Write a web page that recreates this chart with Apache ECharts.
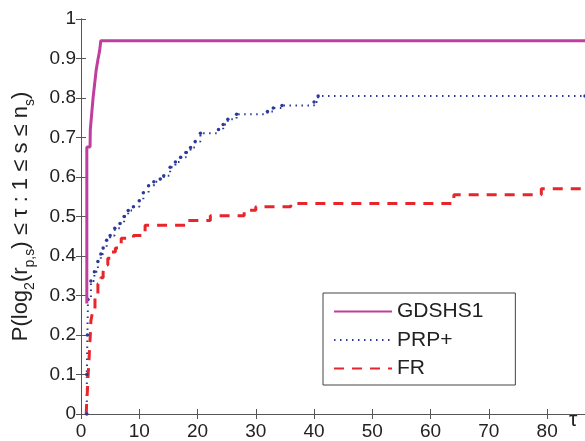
<!DOCTYPE html>
<html>
<head>
<meta charset="utf-8">
<script src="https://cdn.jsdelivr.net/npm/echarts@6/dist/echarts.min.js"></script>
<style>
  html, body { margin: 0; padding: 0; background: #fff; }
  #chart { width: 585px; height: 441px; }
</style>
</head>
<body>
<div id="chart"></div>
<script>
// tau ticks and y ticks
const xTicks = [0, 10, 20, 30, 40, 50, 60, 70, 80];
const yTicks = [0, 0.1, 0.2, 0.3, 0.4, 0.5, 0.6, 0.7, 0.8, 0.9, 1];
const seriesNames = ['GDSHS1', 'PRP+', 'FR'];

// [tau, P]
const gdshs1 = [[1, 0.28], [1, 0.676], [1.55, 0.676], [1.6, 0.72], [2.07, 0.8], [2.6, 0.87],
  [2.9, 0.897], [3.2, 0.92], [3.4, 0.945], [86.5, 0.945]];

const prpPlus = [[1, 0], [1, 0.1], [1.1, 0.2], [1.2, 0.29], [1.7, 0.337], [2.3, 0.36], [2.9, 0.386],
  [3.4, 0.405], [3.8, 0.42], [4.4, 0.44], [5, 0.452], [5.8, 0.47], [6.7, 0.482], [7.4, 0.5],
  [8.1, 0.515], [9, 0.525], [10, 0.54], [10.7, 0.56], [11.6, 0.578], [12.5, 0.588], [13.6, 0.595],
  [14.2, 0.603], [15.3, 0.625], [16.2, 0.638], [17.1, 0.65], [18, 0.662], [18.8, 0.675],
  [19.6, 0.69], [20.5, 0.711], [23.6, 0.72], [24.4, 0.733], [25.2, 0.746], [26.7, 0.759],
  [32, 0.766], [33, 0.775], [34.5, 0.781], [40, 0.79], [40.7, 0.805], [86.5, 0.805]];

const fr = [[0.9, 0], [0.95, 0.02], [1.1, 0.06], [1.2, 0.093], [1.35, 0.13], [1.5, 0.176],
  [1.6, 0.2], [1.7, 0.236], [2, 0.26], [2.4, 0.3], [2.9, 0.33], [3.4, 0.345], [3.8, 0.36],
  [4.1, 0.377], [4.6, 0.394], [5.3, 0.41], [5.9, 0.42], [6.9, 0.445], [9, 0.452], [11, 0.478],
  [18.3, 0.49], [22.2, 0.502], [28, 0.516], [30, 0.525], [36, 0.533], [64, 0.555], [79, 0.57],
  [86.5, 0.57]];

const chart = echarts.init(document.getElementById('chart'));
const font = 'Liberation Sans, Arial, sans-serif';
const axisCol = '#555';

const tickCommon = { inside: true, length: 5, lineStyle: { color: axisCol } };

const option = {
  animation: false,
  backgroundColor: '#fff',
  grid: { left: 81, top: 19, right: 0, bottom: 23.5 },
  xAxis: [{
    type: 'value', min: 0, max: 86.5, interval: 10,
    axisLine: { show: true, lineStyle: { color: axisCol } },
    axisTick: tickCommon,
    splitLine: { show: false },
    axisLabel: {
      showMaxLabel: false, margin: 8, color: '#222', fontSize: 19, fontFamily: font,
      formatter: v => xTicks.includes(v) ? String(v) : ''
    }
  }, {
    type: 'value', position: 'top', min: 0, max: 86.5, interval: 10,
    axisLine: { show: true, lineStyle: { color: axisCol } },
    axisTick: tickCommon, axisLabel: { show: false }, splitLine: { show: false }
  }],
  yAxis: [{
    type: 'value', min: 0, max: 1, interval: 0.1,
    axisLine: { show: true, lineStyle: { color: axisCol } },
    axisTick: tickCommon,
    splitLine: { show: false },
    axisLabel: {
      margin: 5, color: '#222', fontSize: 19, fontFamily: font,
      formatter: v => {
        const t = yTicks.find(y => Math.abs(y - v) < 1e-6);
        return t === undefined ? '' : String(t);
      }
    },
    name: '{n|P(log}{s|2}{n|(r}{s|p,s}{n|) ≤ τ : 1 ≤ s ≤ n}{s|s}{n|)}',
    nameLocation: 'middle', nameRotate: 90, nameGap: 44,
    nameTextStyle: {
      rich: {
        n: { fontSize: 22, lineHeight: 32, color: '#222', fontFamily: font },
        s: { fontSize: 14, lineHeight: 14, color: '#222', fontFamily: font, verticalAlign: 'bottom' }
      }
    }
  }, {
    type: 'value', position: 'right', min: 0, max: 1, interval: 0.1,
    axisLine: { show: true, lineStyle: { color: axisCol } },
    axisTick: tickCommon, axisLabel: { show: false }, splitLine: { show: false }
  }],
  legend: {
    orient: 'vertical', left: 323, top: 293,
    data: seriesNames,
    backgroundColor: '#fff', borderColor: '#444', borderWidth: 1, borderRadius: 0,
    padding: [8, 32, 6, 10],
    itemWidth: 58, itemHeight: 14, itemGap: 7.5,
    itemStyle: { opacity: 0 },
    textStyle: { fontSize: 21, lineHeight: 21, color: '#222', fontFamily: font }
  },
  graphic: [{
    type: 'text', left: 569, top: 410,
    style: { text: 'τ', fontSize: 21, fill: '#222', fontFamily: font }
  }],
  series: [{
    name: seriesNames[0], type: 'line', data: gdshs1, showSymbol: false, symbol: 'none',
    lineStyle: { color: '#c03f9e', width: 3 }, itemStyle: { color: '#c03f9e' }, z: 3
  }, {
    name: seriesNames[1], type: 'line', data: prpPlus, step: 'end',
    symbol: 'circle', symbolSize: 3.5, showSymbol: true,
    lineStyle: { color: '#2b3a98', width: 2, type: [1.5, 4.5] },
    itemStyle: { color: '#2b3a98' }, z: 2
  }, {
    name: seriesNames[2], type: 'line', data: fr, step: 'end', showSymbol: false, symbol: 'none',
    lineStyle: { color: '#e8252b', width: 3, type: [10, 8] },
    itemStyle: { color: '#e8252b' }, z: 2
  }]
};

chart.setOption(option);
</script>
</body>
</html>
